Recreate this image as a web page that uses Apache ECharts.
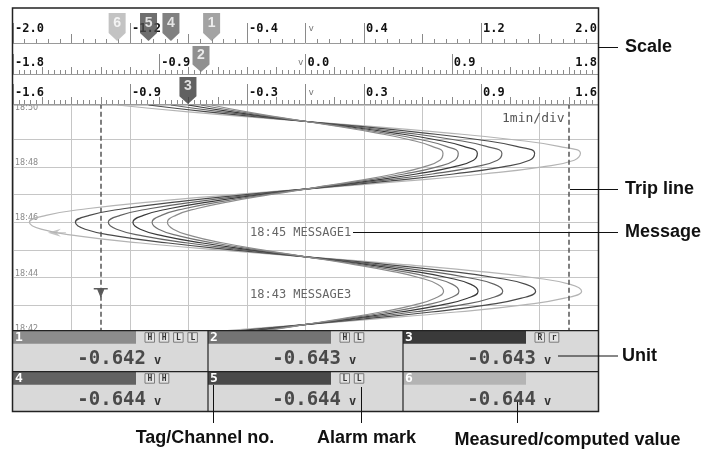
<!DOCTYPE html>
<html>
<head>
<meta charset="utf-8">
<script src="https://cdn.jsdelivr.net/npm/echarts@6/dist/echarts.min.js"></script>
<style>
  html, body { margin: 0; padding: 0; background: #fff; }
  #main { width: 704px; height: 450px; }
</style>
</head>
<body>
<div id="main"></div>
<script>
// channels
const chNames = ['1', '2', '3', '4', '5', '6']
const chRanges = [2.0, 1.8, 1.6, 1.4, 1.2, 1.0]          // +/- span of each channel scale
const chValues = [-0.642, -0.643, -0.643, -0.644, -0.644, -0.644]
const chColors = ['#8c8c8c', '#747474', '#3a3a3a', '#626262', '#4a4a4a', '#b4b4b4']
const chMarkerRow = [0, 1, 2, 0, 0, 0]
const alarmMarks = [['H', 'H', 'L', 'L'], ['H', 'L'], ['R', 'r'], ['H', 'H'], ['L', 'L'], []]
const unit = 'v'

// trend, time in minutes after 18:00, value in volts
const times = [41.75, 42.0, 42.25, 42.5, 42.75, 43.0, 43.25, 43.5, 43.75, 44.0, 44.25, 44.5,
  44.75, 45.0, 45.25, 45.5, 45.75, 46.0, 46.25, 46.5, 46.75, 47.0, 47.25, 47.5, 47.75,
  48.0, 48.25, 48.5, 48.75, 49.0, 49.25, 49.5, 49.75, 50.0, 50.25]
const wave = [-0.609, -0.351, -0.058, 0.242, 0.516, 0.739, 0.886, 0.944, 0.905, 0.774, 0.565, 0.299,
  0.002, -0.297, -0.563, -0.773, -0.904, -0.944, -0.887, -0.741, -0.518, -0.244, 0.055, 0.349, 0.607,
  0.804, 0.919, 0.940, 0.866, 0.705, 0.472, 0.189, -0.111, -0.401]

const tripValues = [-1.4, 1.8]       // on channel 1 scale
const alarmPoints = [
  { ch: 5, value: -0.85, time: 45.62, kind: 'left' },
  { ch: 0, value: -1.4, time: 43.44, kind: 'down' }
]
const messages = ['18:45 MESSAGE1', '18:43 MESSAGE3']

// scale bars
const scale1Labels = [-2.0, -1.2, -0.4, 0.4, 1.2, 2.0]
const scale2Labels = [-1.8, -0.9, 0.0, 0.9, 1.8]
const scale3Labels = [-1.6, -0.96, -0.32, 0.32, 0.96, 1.6]

const L = 13
const W = 585
const chartTop = 105
const chartH = 227.7
const mono = '"DejaVu Sans Mono", monospace'
const sans = '"Liberation Sans", Arial, sans-serif'

const chart = echarts.init(document.getElementById('main'), null, { renderer: 'canvas' })

const grids = [
  { left: L, top: 8, width: W, height: 35 },
  { left: L, top: 43, width: W, height: 31 },
  { left: L, top: 74, width: W, height: 30 },
  { left: L, top: chartTop, width: W, height: chartH }
]

const scaleRows = [
  { range: 2.0, interval: 0.4, minor: 5, labels: scale1Labels, tall: scale1Labels.concat([0]), unitAlign: 'left', margin: 8.5, tick: 9 },
  { range: 1.8, interval: 0.18, minor: 5, labels: scale2Labels, tall: scale2Labels, unitAlign: 'right', margin: 5.5, tick: 7 },
  { range: 1.6, interval: 0.16, minor: 5, labels: scale3Labels, tall: scale3Labels.concat([0]), unitAlign: 'left', margin: 5.5, tick: 7 }
]

const xAxes = []
const yAxes = []
const series = []

scaleRows.forEach((row, r) => {
  xAxes.push({
    gridIndex: r, position: 'bottom', type: 'value', min: -row.range, max: row.range, interval: row.interval, z: 5,
    axisLine: { show: true, lineStyle: { color: '#9a9a9a', width: 1 } },
    axisTick: { show: true, inside: true, length: row.tick, lineStyle: { color: '#8a8a8a' } },
    minorTick: { show: true, splitNumber: row.minor, length: 4, lineStyle: { color: '#8a8a8a' } },
    axisLabel: { show: false },
    splitLine: { show: false }
  })
  xAxes.push({
    gridIndex: r, position: 'bottom', type: 'value', min: -row.range, max: row.range, z: 5,
    axisLine: { show: false },
    axisTick: { show: true, inside: true, length: 20, customValues: row.tall, lineStyle: { color: '#8a8a8a' } },
    axisLabel: {
      show: true, inside: true, customValues: row.labels, margin: row.margin,
      align: 'left', alignMaxLabel: 'right', padding: [0, 1, 0, 2],
      fontFamily: mono, fontWeight: 'bold', fontSize: 12, color: '#111',
      formatter: v => (Math.trunc(Math.round(v * 1000) / 100) / 10).toFixed(1)
    },
    splitLine: { show: false }
  })
  xAxes.push({
    gridIndex: r, position: 'bottom', type: 'value', min: -row.range, max: row.range, z: 5,
    axisLine: { show: false }, axisTick: { show: false }, splitLine: { show: false },
    axisLabel: {
      show: true, inside: true, customValues: [0], margin: row.margin + 1,
      align: row.unitAlign, padding: row.unitAlign === 'left' ? [0, 0, 0, 3] : [0, 2, 0, 0],
      fontFamily: mono, fontSize: 9, color: '#777', formatter: () => unit
    }
  })
  yAxes.push({ gridIndex: r, type: 'value', min: 0, max: 1, show: false })
})

// time axis of the trend area
yAxes.push({
  gridIndex: 3, type: 'value', min: 42, max: 50.25, interval: 1,
  axisLine: { show: false }, axisTick: { show: false },
  splitLine: {
    show: true,
    lineStyle: { color: ['#c6c6c6', '#c6c6c6', '#c6c6c6', '#c6c6c6', '#c6c6c6', '#c6c6c6', '#c6c6c6', '#c6c6c6', 'rgba(0,0,0,0)', '#c6c6c6'] }
  },
  axisLabel: {
    show: true, inside: true, margin: 2, verticalAlign: 'bottom',
    fontFamily: '"DejaVu Sans", sans-serif', fontSize: 8, color: '#8a8a8a',
    formatter: v => (Number.isInteger(v) && v % 2 === 0 ? '18:' + String(v).padStart(2, '0') : '')
  }
})

// marker axes on the scale bars
const markerAxisStart = xAxes.length
chRanges.forEach((r, i) => {
  xAxes.push({ gridIndex: chMarkerRow[i], position: 'bottom', type: 'value', min: -r, max: r, show: false })
})

// trend axes, one per channel
const trendAxisStart = xAxes.length
chRanges.forEach((r, i) => {
  if (i === 0) {
    xAxes.push({
      gridIndex: 3, position: 'bottom', type: 'value', min: -r, max: r, interval: 0.4,
      axisLine: { show: false }, axisTick: { show: false }, axisLabel: { show: false },
      splitLine: { show: true, lineStyle: { color: '#c6c6c6', width: 1 } }
    })
  } else {
    xAxes.push({ gridIndex: 3, position: 'bottom', type: 'value', min: -r, max: r, show: false })
  }
})

const markerHeights = [28, 26, 27]
const markerOffsets = [-16, -15, -13.5]
chNames.forEach((name, i) => {
  const row = chMarkerRow[i]
  series.push({
    type: 'scatter', z: 6, xAxisIndex: markerAxisStart + i, yAxisIndex: row,
    data: [[chValues[i], 0]],
    symbol: 'path://M0,0H17V20L8.5,28L0,20Z',
    symbolSize: [17, markerHeights[row]],
    symbolOffset: [0, markerOffsets[row]],
    itemStyle: { color: chColors[i] },
    label: {
      show: true, position: 'inside', offset: [0, -4], formatter: name,
      color: '#fff', fontFamily: sans, fontWeight: 'bold', fontSize: 14
    },
    silent: true
  })
})

// draw widest first so it stays underneath
for (let i = chNames.length - 1; i >= 0; i--) {
  const vals = wave.concat([chValues[i]])
  const s = {
    type: 'line', xAxisIndex: trendAxisStart + i, yAxisIndex: 3,
    data: times.map((t, k) => [vals[k], t]),
    showSymbol: false, smooth: true, silent: true,
    lineStyle: { color: chColors[i], width: 1.2 }
  }
  if (i === 0) {
    s.markLine = {
      silent: true, symbol: ['none', 'none'], label: { show: false },
      lineStyle: { type: [5, 3], color: '#555', width: 1.5 },
      data: tripValues.map(v => ({ xAxis: v }))
    }
  }
  series.push(s)
}

alarmPoints.forEach(p => {
  series.push({
    type: 'scatter', xAxisIndex: trendAxisStart + p.ch, yAxisIndex: 3, z: 4,
    data: [[p.value, p.time]],
    symbol: p.kind === 'left' ? 'path://M0,4L13,0L9,3.5H18V4.5H9L13,8Z' : 'path://M0,0H14V1.6H10.5L7,10L3.5,1.6H0Z',
    symbolSize: p.kind === 'left' ? [18, 8] : [14, 10],
    itemStyle: { color: p.kind === 'left' ? chColors[p.ch] : '#333' },
    silent: true
  })
})

// ---- graphic parts: panel, frame, callouts
const g = []
g.push({ type: 'rect', z: 1, silent: true, shape: { x: L, y: 8.5, width: W, height: 96 }, style: { fill: '#fff' } })

g.push({ type: 'text', z: 3, x: 502, y: 119, style: { text: '1min/div', font: '13px ' + mono, fill: '#555', textVerticalAlign: 'middle' } })
const msgY = [233, 295]
messages.forEach((m, k) => {
  g.push({ type: 'text', z: 3, x: 250, y: msgY[k], style: { text: m, font: '12px ' + mono, fill: '#666', textVerticalAlign: 'middle' } })
})

const panelTop = 330.7
const rowH = 41
const colW = 195
g.push({ type: 'rect', z: 10, shape: { x: L, y: panelTop, width: W, height: 411.5 - panelTop }, style: { fill: '#d9d9d9' } })
chNames.forEach((name, i) => {
  const cx = L + (i % 3) * colW
  const cy = panelTop + Math.floor(i / 3) * rowH
  g.push({ type: 'rect', z: 11, shape: { x: cx, y: cy, width: 123, height: 13 }, style: { fill: chColors[i] } })
  g.push({ type: 'text', z: 12, x: cx + 2, y: cy + 7, style: { text: name, font: 'bold 13px ' + mono, fill: '#fff', textVerticalAlign: 'middle' } })
  alarmMarks[i].forEach((a, j) => {
    const bx = cx + 132 + j * 14.3
    g.push({ type: 'rect', z: 11, shape: { x: bx, y: cy + 2, width: 9.5, height: 9.5 }, style: { fill: '#e4e4e4', stroke: '#7a7a7a', lineWidth: 1 } })
    g.push({ type: 'text', z: 12, x: bx + 4.9, y: cy + 7, style: { text: a, font: 'bold 8px ' + mono, fill: '#333', textAlign: 'center', textVerticalAlign: 'middle' } })
  })
  g.push({ type: 'text', z: 12, x: cx + 133, y: cy + 28.5, style: { text: chValues[i].toFixed(3), font: 'bold 19px ' + mono, fill: '#4a4a4a', textAlign: 'right', textVerticalAlign: 'middle' } })
  g.push({ type: 'text', z: 12, x: cx + 141, y: cy + 30, style: { text: unit, font: 'bold 12px ' + mono, fill: '#333', textVerticalAlign: 'middle' } })
})
g.push({ type: 'line', z: 13, shape: { x1: L, y1: panelTop, x2: L + W, y2: panelTop }, style: { stroke: '#222', lineWidth: 1.2 } })
g.push({ type: 'line', z: 13, shape: { x1: L, y1: panelTop + rowH, x2: L + W, y2: panelTop + rowH }, style: { stroke: '#222', lineWidth: 1.2 } })
;[1, 2].forEach(c => {
  g.push({ type: 'line', z: 13, shape: { x1: L + c * colW, y1: panelTop, x2: L + c * colW, y2: 411.5 }, style: { stroke: '#222', lineWidth: 1.2 } })
})
g.push({ type: 'rect', z: 15, shape: { x: 12.5, y: 8, width: 586, height: 403.5 }, style: { fill: 'none', stroke: '#222', lineWidth: 1.5 } })

// callouts
const callout = { stroke: '#111', lineWidth: 1 }
const calloutFont = 'bold 18px ' + sans
const sideNotes = [
  { text: 'Scale', y: 47.5, x1: 598 },
  { text: 'Trip line', y: 189.5, x1: 570 },
  { text: 'Message', y: 232.5, x1: 353 },
  { text: 'Unit', y: 356, x1: 558 }
]
sideNotes.forEach(n => {
  g.push({ type: 'line', z: 20, shape: { x1: n.x1, y1: n.y, x2: 618, y2: n.y }, style: callout })
  g.push({ type: 'text', z: 20, x: n.text === 'Unit' ? 622 : 625, y: n.y, style: { text: n.text, font: calloutFont, fill: '#111', textVerticalAlign: 'middle' } })
})
const bottomNotes = [
  { text: 'Tag/Channel no.', lx: 213.5, ly: 385, tx: 205, ty: 438 },
  { text: 'Alarm mark', lx: 361.5, ly: 387, tx: 366.5, ty: 438 },
  { text: 'Measured/computed value', lx: 517.5, ly: 402, tx: 567.5, ty: 440 }
]
bottomNotes.forEach(n => {
  g.push({ type: 'line', z: 20, shape: { x1: n.lx, y1: n.ly, x2: n.lx, y2: 423 }, style: callout })
  g.push({ type: 'text', z: 20, x: n.tx, y: n.ty, style: { text: n.text, font: calloutFont, fill: '#111', textAlign: 'center', textVerticalAlign: 'middle' } })
})

const option = {
  animation: false,
  backgroundColor: '#fff',
  grid: grids,
  xAxis: xAxes,
  yAxis: yAxes,
  series: series,
  graphic: { elements: g }
}
chart.setOption(option)
</script>
</body>
</html>
